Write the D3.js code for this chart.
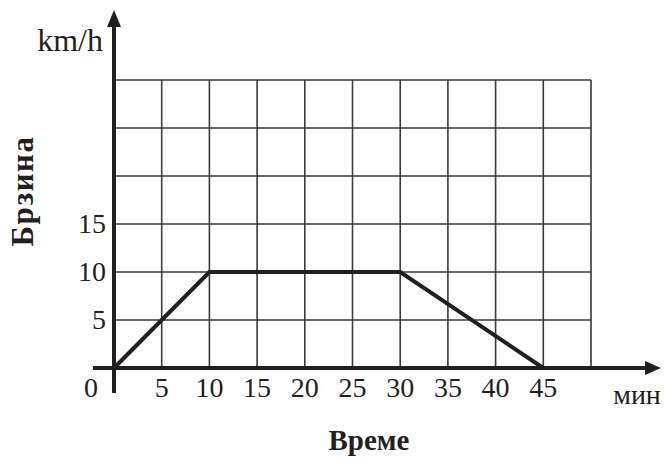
<!DOCTYPE html>
<html>
<head>
<meta charset="utf-8">
<script src="https://cdn.jsdelivr.net/npm/d3@7"></script>
</head>
<body style="margin:0">
<svg id="chart" width="670" height="464"></svg>
<script>
// Speed over time: accelerate, cruise, decelerate
const timeMin = [0, 10, 30, 45];
const speedKmh = [0, 10, 10, 0];

// Axis ticks and labels
const xTickValues = [5, 10, 15, 20, 25, 30, 35, 40, 45];
const yTickValues = [5, 10, 15];
const xGridValues = [0, 5, 10, 15, 20, 25, 30, 35, 40, 45, 50];
const yGridValues = [0, 5, 10, 15, 20, 25, 30];
const xUnit = "мин";
const yUnit = "km/h";
const xTitle = "Време";
const yTitle = "Брзина";

const svg = d3.select("#chart");
const x = d3.scaleLinear().domain([0, 50]).range([114, 591]);
const y = d3.scaleLinear().domain([0, 30]).range([368, 80]);

const ink = "#231f20";
const fontStack = "'Liberation Serif', 'Times New Roman', Tinos, serif";

// Small helper so every label gets the same serif face
function label(sel, size, weight) {
  return sel
    .style("font-family", fontStack)
    .style("font-size", size + "px")
    .style("font-weight", weight || "normal")
    .attr("fill", ink);
}

// Grid
const grid = svg.append("g").attr("stroke", "#3a3a3a").attr("stroke-width", 1.6);
grid.selectAll("line.v").data(xGridValues.slice(1)).join("line")
  .attr("x1", d => x(d)).attr("x2", d => x(d))
  .attr("y1", y(30)).attr("y2", y(0));
grid.selectAll("line.h").data(yGridValues.slice(1)).join("line")
  .attr("x1", x(0)).attr("x2", x(50))
  .attr("y1", d => y(d)).attr("y2", d => y(d));

// Axes with arrowheads
const axes = svg.append("g");
axes.append("line")
  .attr("x1", 93).attr("x2", 648)
  .attr("y1", y(0)).attr("y2", y(0))
  .attr("stroke", ink).attr("stroke-width", 4);
axes.append("path")
  .attr("d", `M${661},${y(0)} L${645},${y(0) - 7} L${645},${y(0) + 7} Z`)
  .attr("fill", ink);
axes.append("line")
  .attr("x1", x(0)).attr("x2", x(0))
  .attr("y1", 24).attr("y2", 393)
  .attr("stroke", ink).attr("stroke-width", 4);
axes.append("path")
  .attr("d", `M${x(0)},${10} L${x(0) - 7},${27} L${x(0) + 7},${27} Z`)
  .attr("fill", ink);

// Speed profile
const line = d3.line().x((d, i) => x(timeMin[i])).y(d => y(d));
svg.append("path")
  .datum(speedKmh)
  .attr("d", line)
  .attr("fill", "none")
  .attr("stroke", ink)
  .attr("stroke-width", 4)
  .attr("stroke-linejoin", "miter");

// Tick labels
const fs = 28;
label(svg.append("g").selectAll("text").data(xTickValues).join("text")
  .attr("x", d => x(d)).attr("y", 397)
  .attr("text-anchor", "middle"), fs)
  .text(d => d);
label(svg.append("text")
  .attr("x", 91).attr("y", 397)
  .attr("text-anchor", "middle"), fs)
  .text("0");
label(svg.append("g").selectAll("text").data(yTickValues).join("text")
  .attr("x", 106).attr("y", d => y(d) + 9)
  .attr("text-anchor", "end"), fs)
  .text(d => d);

// Units
label(svg.append("text")
  .attr("x", 103).attr("y", 51)
  .attr("text-anchor", "end"), 32)
  .text(yUnit);
label(svg.append("text")
  .attr("x", 637).attr("y", 404)
  .attr("text-anchor", "middle"), 28)
  .text(xUnit);

// Axis titles
label(svg.append("text")
  .attr("x", 369).attr("y", 450)
  .attr("text-anchor", "middle"), 29, "bold")
  .text(xTitle);
label(svg.append("text")
  .attr("transform", "translate(33,191) rotate(-90)")
  .attr("text-anchor", "middle"), 31, "bold")
  .style("letter-spacing", "1.5px")
  .text(yTitle);
</script>
</body>
</html>
